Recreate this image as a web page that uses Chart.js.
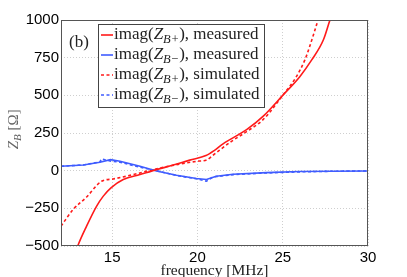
<!DOCTYPE html>
<html>
<head>
<meta charset="utf-8">
<script src="https://cdn.jsdelivr.net/npm/chart.js@4"></script>
<style>
  html, body { margin: 0; padding: 0; background: #fff; }
  #wrap { width: 407px; height: 277px; }
</style>
</head>
<body>
<div id="wrap"><canvas id="chart" width="407" height="277"></canvas></div>
<script>
// series (frequency in MHz, imag(Z_B) in ohm)
const freqPlusMeas = [12.8, 12.98, 13.5, 14.09, 14.48, 14.93, 15.65, 16.63, 17.6, 18.58, 19.55, 20.5, 21.0, 21.5, 22.88, 23.86, 25.0, 26.0, 26.7, 27.38, 27.77, 27.9];
const zPlusMeas = [-560, -500, -368, -235, -169, -114, -59, -26, 7, 37, 70, 100, 135, 178, 272, 362, 500, 624, 735, 867, 1000, 1040];

const freqPlusSim = [12, 12.72, 13.5, 14.38, 15.06, 16.24, 17.4, 18.77, 19.94, 20.54, 20.93, 22.0, 22.88, 23.86, 25.0, 25.8, 26.3, 26.58, 27.07, 27.15];
const zPlusSim = [-368, -257, -175, -70, -55, -26, 7, 40, 62, 71, 104, 195, 259, 340, 500, 624, 735, 824, 1000, 1030];

const freqMinusMeas = [12, 13.31, 14.28, 14.9, 15.46, 16.63, 17.6, 18.77, 19.94, 20.53, 21.1, 22.1, 24.04, 26.0, 27.95, 30];
const zMinusMeas = [29, 38, 56, 73, 62, 29, -2, -30, -52, -59, -37, -24, -13, -6, -4, -2];

const freqMinusSim = [12, 13.31, 14.28, 14.38, 14.87, 15.46, 16.63, 17.6, 18.77, 19.94, 20.53, 20.9, 22.1, 24.04, 26.0, 27.95, 30];
const zMinusSim = [29, 38, 58, 78, 64, 56, 23, 0, -32, -54, -70, -42, -26, -15, -8, -4, -2];

const legendMain = ["imag(", "imag(", "imag(", "imag("];
const legendSub = ["B+", "B\u2212", "B+", "B\u2212"];
const legendTail = ["), measured", "), measured", "), simulated", "), simulated"];

const xTickValues = [15, 20, 25, 30];
const yTickValues = [-500, -250, 0, 250, 500, 750, 1000];

const RED = "#ff1a1a";
const BLUE = "#3f5cff";
const SERIF = "'Liberation Serif', 'DejaVu Serif', serif";
const SANS = "'Liberation Sans', Arial, sans-serif";

function pts(xs, ys) {
  return xs.map((x, i) => ({ x: x, y: ys[i] }));
}

function series(xs, ys, color, dashed, smooth) {
  return {
    data: pts(xs, ys),
    borderColor: color,
    borderWidth: 1.6,
    borderDash: dashed ? [3, 2.5] : [],
    pointRadius: 0,
    cubicInterpolationMode: smooth ? "monotone" : "default",
    tension: 0,
    fill: false
  };
}

// draw "Z" + subscript + rest, left aligned at (x, y)
function drawZ(ctx, x, y, size, subSize, before, sub, after) {
  ctx.font = size + "px " + SERIF;
  ctx.fillText(before, x, y);
  x += ctx.measureText(before).width;
  ctx.font = "italic " + size + "px " + SERIF;
  ctx.fillText("Z", x, y);
  x += ctx.measureText("Z").width;
  ctx.font = "italic " + subSize + "px " + SERIF;
  ctx.fillText(sub, x, y + size * 0.25);
  x += ctx.measureText(sub).width;
  ctx.font = size + "px " + SERIF;
  ctx.fillText(after, x, y);
}

const decor = {
  id: "decor",
  afterDraw(chart) {
    const { ctx, chartArea: a } = chart;
    ctx.save();

    // frame
    ctx.strokeStyle = "#555";
    ctx.lineWidth = 1;
    ctx.strokeRect(a.left + 0.5, a.top + 0.5, a.right - a.left - 1, a.bottom - a.top - 1);

    // (b)
    ctx.fillStyle = "#222";
    ctx.textBaseline = "middle";
    ctx.textAlign = "left";
    ctx.font = "17px " + SERIF;
    ctx.fillText("(b)", 69, 43);

    // legend box
    ctx.fillStyle = "#fff";
    ctx.fillRect(98, 24, 166, 83);
    ctx.strokeStyle = "#444";
    ctx.strokeRect(98.5, 24.5, 166, 83);
    const colors = [RED, BLUE, RED, BLUE];
    for (let i = 0; i < 4; i++) {
      const y = 35 + i * 20;
      ctx.strokeStyle = colors[i];
      ctx.lineWidth = 1.6;
      ctx.setLineDash(i >= 2 ? [3, 2.5] : []);
      ctx.beginPath();
      ctx.moveTo(101, y);
      ctx.lineTo(113, y);
      ctx.stroke();
      ctx.setLineDash([]);
      ctx.fillStyle = "#222";
      drawZ(ctx, 114, y, 17, 12.5, legendMain[i], legendSub[i], legendTail[i]);
    }

    // y axis title
    ctx.save();
    ctx.translate(14, 128);
    ctx.rotate(-Math.PI / 2);
    ctx.fillStyle = "#666";
    ctx.textBaseline = "middle";
    ctx.font = "italic 15px " + SERIF;
    const w = ctx.measureText("Z").width + 8 + ctx.measureText(" [\u03a9]").width;
    drawZ(ctx, -w / 2, 0, 15, 11, "", "B", " [\u03a9]");
    ctx.restore();

    // x axis title
    ctx.fillStyle = "#222";
    ctx.textAlign = "center";
    ctx.textBaseline = "alphabetic";
    ctx.font = "15.5px " + SERIF;
    ctx.fillText("frequency [MHz]", (a.left + a.right) / 2, 275);

    ctx.restore();
  }
};

new Chart(document.getElementById("chart"), {
  type: "line",
  data: {
    datasets: [
      series(freqPlusMeas, zPlusMeas, RED, false, true),
      series(freqMinusMeas, zMinusMeas, BLUE, false, false),
      series(freqPlusSim, zPlusSim, RED, true, true),
      series(freqMinusSim, zMinusSim, BLUE, true, false)
    ]
  },
  options: {
    responsive: false,
    animation: false,
    layout: { padding: { left: 0, top: 20, right: 39, bottom: 0 } },
    plugins: { legend: { display: false }, tooltip: { enabled: false } },
    scales: {
      x: {
        type: "linear",
        min: 12,
        max: 30,
        afterBuildTicks: s => { s.ticks = xTickValues.map(v => ({ value: v })); },
        afterFit: s => { s.height = 31; },
        grid: { color: "#cfcfcf", lineWidth: 1, drawTicks: false },
        border: { display: false, dash: [1, 2] },
        ticks: {
          color: "#000",
          font: { family: SANS, size: 15 },
          padding: 3,
          maxRotation: 0
        }
      },
      y: {
        min: -500,
        max: 1000,
        afterBuildTicks: s => { s.ticks = yTickValues.map(v => ({ value: v })); },
        afterFit: s => { s.width = 61; },
        grid: { color: "#cfcfcf", lineWidth: 1, drawTicks: false },
        border: { display: false, dash: [1, 2] },
        ticks: {
          color: "#000",
          font: { family: SANS, size: 15 },
          padding: 2,
          callback: v => String(v).replace("-", "\u2212")
        }
      }
    }
  },
  plugins: [decor]
});
</script>
</body>
</html>
